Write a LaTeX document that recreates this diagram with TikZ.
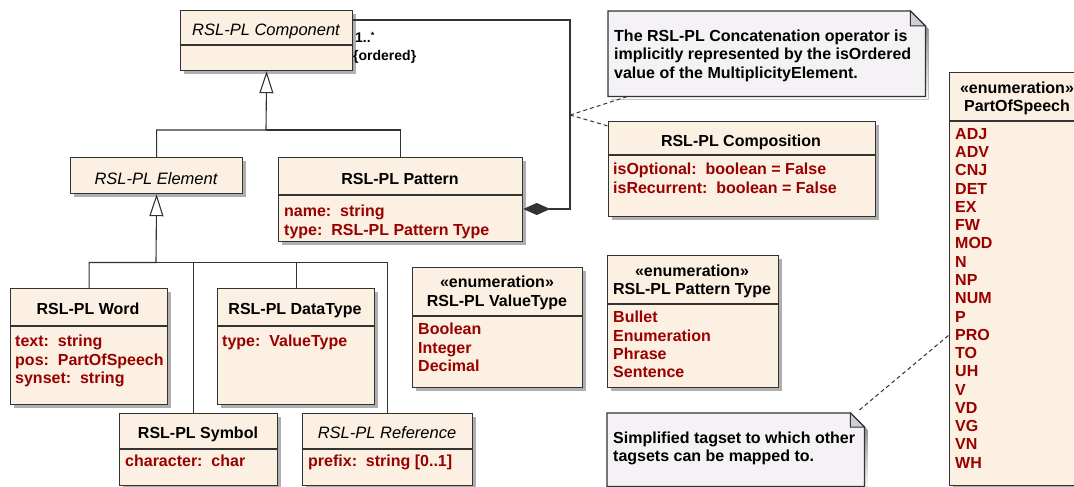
\documentclass[tikz,border=0pt]{standalone}
\usepackage{fontspec}
\setmainfont{Liberation Sans}
\usetikzlibrary{arrows.meta,calc,shadows}
\definecolor{clsfill}{RGB}{251,240,225}
\definecolor{attrred}{RGB}{153,0,0}
\definecolor{notefill}{RGB}{245,242,246}
\definecolor{foldgray}{RGB}{208,206,212}
\definecolor{edgec}{RGB}{51,51,51}
\definecolor{shade}{RGB}{175,175,175}
\tikzset{
 cls/.style={draw=edgec, line width=1.2pt, fill=clsfill, anchor=north west, inner sep=0pt,
   drop shadow={shadow xshift=3pt, shadow yshift=-3pt, fill=shade, opacity=1}},
 notebg/.style={anchor=north west, inner sep=0pt},
 divl/.style={draw=edgec, line width=1.2pt},
 hdr/.style={font=\fontsize{16}{18}\selectfont\bfseries, anchor=base, inner sep=0pt},
 hdri/.style={font=\fontsize{16.5}{18}\selectfont\itshape, anchor=base, inner sep=0pt},
 attrs/.style={font=\fontsize{16}{18.4}\selectfont\bfseries, text=attrred, align=left, anchor=north west, inner sep=0pt},
 notetxt/.style={font=\fontsize{16}{18.2}\selectfont\bfseries, align=left, anchor=north west, inner sep=0pt},
 mult/.style={font=\fontsize{14}{16}\selectfont\bfseries, anchor=base west, inner sep=0pt},
 conn/.style={draw=edgec, line width=1.1pt},
 gen/.style={conn, -{Triangle[width=14pt,length=22pt,fill=white,line width=1.1pt]}},
 compos/.style={conn, -{Diamond[width=12pt,length=27pt]}},
 noteln/.style={draw=edgec, line width=1pt, dash pattern=on 4pt off 3pt},
}
\newcommand\notebox[2]{%
 \fill[shade] ($(#1.north west)+(3,3)$) -- ($(#1.north east)+(3-#2,3)$) -- ($(#1.north east)+(3,3+#2)$) -- ($(#1.south east)+(3,3)$) -- ($(#1.south west)+(3,3)$) -- cycle;
 \draw[edgec, line width=1.2pt, fill=notefill] (#1.north west) -- ($(#1.north east)+(-#2,0)$) -- ($(#1.north east)+(0,#2)$) -- (#1.south east) -- (#1.south west) -- cycle;
 \draw[edgec, line width=1pt, fill=foldgray] ($(#1.north east)+(-#2,0)$) -- ($(#1.north east)+(-#2,#2)$) -- ($(#1.north east)+(0,#2)$) -- cycle;}
\newcommand\divider[2]{\draw[divl] ($(#1.north west)+(0,#2)$) -- ($(#1.north east)+(0,#2)$);}
\begin{document}
\begin{tikzpicture}[x=1pt,y=-1pt]
\useasboundingbox (0,0) rectangle (1074,487);
\clip (0,0) rectangle (1074,487);
\fill[white] (0,0) rectangle (1074,487);

% ---------- class boxes
\node[cls, minimum width=172, minimum height=60] (comp) at (180,10) {};
\divider{comp}{35}
\node[hdri] (compT) at (266,36) {RSL-PL Component};

\node[cls, minimum width=172, minimum height=36] (elem) at (70,157) {};
\node[hdri] (elemT) at (156,184) {RSL-PL Element};

\node[cls, minimum width=244, minimum height=84] (pat) at (278,157) {};
\divider{pat}{38}
\node[hdr] (patT) at (400,184) {RSL-PL Pattern};
\node[attrs] (patA) at (284,205) {name:~~string\\type:~~RSL-PL Pattern Type};

\node[cls, minimum width=267, minimum height=95] (compo) at (608,121) {};
\divider{compo}{34}
\node[hdr] (compoT) at (741,146) {RSL-PL Composition};
\node[attrs] (compoA) at (613,163) {isOptional:~~boolean = False\\isRecurrent:~~boolean = False};

\node[cls, minimum width=157, minimum height=116] (word) at (10,288) {};
\divider{word}{38}
\node[hdr] (wordT) at (88,314) {RSL-PL Word};
\node[attrs] (wordA) at (15,335) {text:~~string\\pos:~~PartOfSpeech\\synset:~~string};

\node[cls, minimum width=157, minimum height=116] (dt) at (217,288) {};
\divider{dt}{38}
\node[hdr] (dtT) at (295,314) {RSL-PL DataType};
\node[attrs] (dtA) at (222,335) {type:~~ValueType};

\node[cls, minimum width=170, minimum height=120] (vt) at (412,267) {};
\divider{vt}{49}
\node[hdr] (vtS) at (497,287) {«enumeration»};
\node[hdr] (vtT) at (497,306) {RSL-PL ValueType};
\node[attrs] (vtA) at (418,323) {Boolean\\Integer\\Decimal};

\node[cls, minimum width=171, minimum height=132] (pt) at (607,255) {};
\divider{pt}{49}
\node[hdr] (ptS) at (692,276) {«enumeration»};
\node[hdr] (ptT) at (692,294) {RSL-PL Pattern Type};
\node[attrs] (ptA) at (613,311) {Bullet\\Enumeration\\Phrase\\Sentence};

\node[cls, minimum width=158, minimum height=72] (sym) at (119,413) {};
\divider{sym}{36}
\node[hdr] (symT) at (198,438) {RSL-PL Symbol};
\node[attrs] (symA) at (125,455) {character:~~char};

\node[cls, minimum width=170, minimum height=72] (ref) at (302,413) {};
\divider{ref}{36}
\node[hdri] (refT) at (387,438) {RSL-PL Reference};
\node[attrs] (refA) at (308,455) {prefix:~~string [0..1]};

\node[cls, minimum width=136, minimum height=413] (pos) at (949,72) {};
\divider{pos}{49}
\node[hdr] (posS) at (1017,93) {«enumeration»};
\node[hdr] (posT) at (1017,111) {PartOfSpeech};
\node[attrs, font=\fontsize{16}{18.28}\selectfont\bfseries] (posA) at (955,128)
 {ADJ\\ADV\\CNJ\\DET\\EX\\FW\\MOD\\N\\NP\\NUM\\P\\PRO\\TO\\UH\\V\\VD\\VG\\VN\\WH};

% ---------- notes
\node[notebg, minimum width=317, minimum height=85] (note1) at (608,11) {};
\notebox{note1}{15}
\node[notetxt] (note1T) at (614,30) {The RSL-PL Concatenation operator is\\implicitly represented by the isOrdered\\value of the MultiplicityElement.};

\node[notebg, minimum width=257, minimum height=73] (note2) at (607,413) {};
\notebox{note2}{14}
\node[notetxt] (note2T) at (613,432) {Simplified tagset to which other\\tagsets can be mapped to.};

% ---------- connectors
\coordinate (j1) at (266,130);
\draw[gen] (elem.north) |- (j1) -- (comp.south);
\draw[conn] (pat.north) |- (j1);

\coordinate (j2) at (156,262.5);
\coordinate (j3) at (193.5,262.5);
\draw[gen] (word.north) |- (j2) -- (elem.south);
\draw[conn] (j2) -| (ref.north);
\draw[conn] (sym.north -| j3) -- (j3);
\draw[conn] (dt.north) -- (dt.north |- j2);

\coordinate (bend) at (570,115);
\draw[compos] ($(comp.north east)+(0,10)$) -| (bend) |- ($(pat.north east)+(0,52)$);
\node[mult] (m1) at (355,43) {1..\raisebox{4pt}{\fontsize{9}{9}\selectfont *}};
\node[mult] (m2) at (353,61) {\{ordered\}};

\draw[noteln] (bend) -- ($(note1.south west)+(20,0)$);
\draw[noteln] (bend) -- ($(compo.north west)+(0,5)$);
\draw[noteln] ($(note2.north east)+(-5,-3)$) -- ($(pos.north west)+(0,263)$);
\end{tikzpicture}
\end{document}
